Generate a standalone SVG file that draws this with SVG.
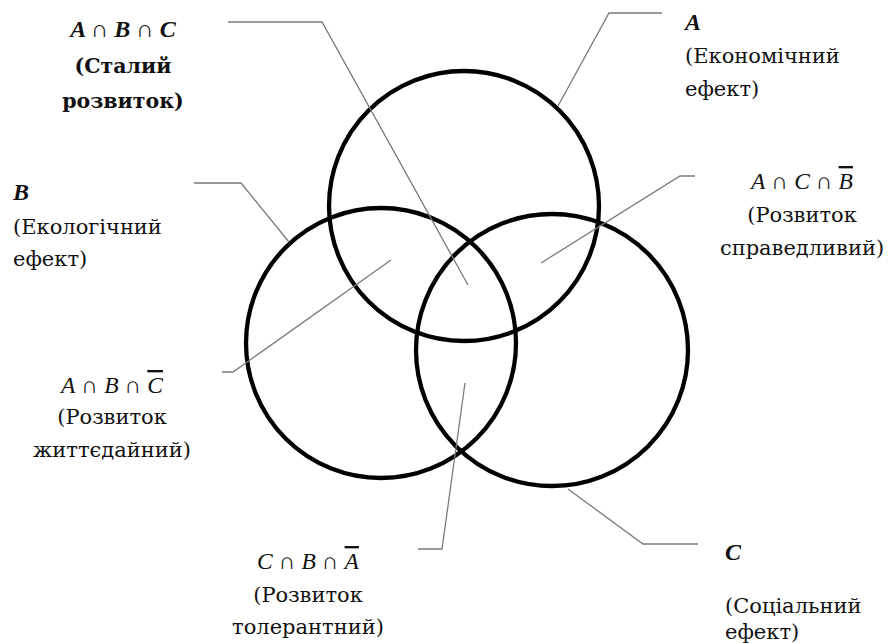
<svg xmlns="http://www.w3.org/2000/svg" width="888" height="643" viewBox="0 0 888 643">
<style>
.c{fill:none;stroke:#000;stroke-width:4.3}
.l{fill:none;stroke:#7a7a7a;stroke-width:1.3}
text{font-family:"DejaVu Serif","Liberation Serif",serif;font-size:21px;fill:#111}
.b{font-weight:bold;font-size:20.5px}
.bi{font-weight:bold;font-style:italic;font-family:"Liberation Serif","DejaVu Serif",serif;font-size:24px}
.m{font-family:"Liberation Serif","DejaVu Serif",serif;font-size:23.5px}
.i{font-style:italic}
.ov{text-decoration:overline}
</style>
<rect width="888" height="643" fill="#fff"/>
<g id="circles">
<circle id="circleA" class="c" cx="464" cy="206" r="135"/>
<circle id="circleB" class="c" cx="381" cy="343" r="135"/>
<circle id="circleC" class="c" cx="552" cy="350" r="136"/>
</g>
<g id="connectors">
<polyline class="l" points="228,22 322,22 468,285"/>
<polyline class="l" points="662,13 609,13 558,106"/>
<polyline class="l" points="194,183 241,183 289,242"/>
<polyline class="l" points="695,176 680,176 541,263"/>
<polyline class="l" points="222,372 233,372 391,260"/>
<polyline class="l" points="418,549 442,549 465,383"/>
<polyline class="l" points="568,489 643,544 698,544"/>
</g>
<g id="labelABC">
<text class="bi" x="123" y="37" text-anchor="middle">A <tspan font-style="normal" font-weight="normal">∩</tspan> B <tspan font-style="normal" font-weight="normal">∩</tspan> C</text>
<text class="b" x="123" y="73" text-anchor="middle">(Сталий</text>
<text class="b" x="123" y="108" text-anchor="middle">розвиток)</text>
</g>
<g id="labelA">
<text class="bi" x="685" y="30">A</text>
<text x="685" y="63">(Економічний</text>
<text x="685" y="96">ефект)</text>
</g>
<g id="labelB">
<text class="bi" x="13" y="200">B</text>
<text x="13" y="234">(Екологічний</text>
<text x="13" y="266">ефект)</text>
</g>
<g id="labelACnotB">
<text class="m" x="802" y="189" text-anchor="middle"><tspan class="i">A</tspan> ∩ <tspan class="i">C</tspan> ∩ <tspan class="i ov">B</tspan></text>
<text x="802" y="222" text-anchor="middle">(Розвиток</text>
<text x="802" y="255" text-anchor="middle">справедливий)</text>
</g>
<g id="labelABnotC">
<text class="m" x="112" y="393" text-anchor="middle"><tspan class="i">A</tspan> ∩ <tspan class="i">B</tspan> ∩ <tspan class="i ov">C</tspan></text>
<text x="112" y="424" text-anchor="middle">(Розвиток</text>
<text x="112" y="457" text-anchor="middle">життєдайний)</text>
</g>
<g id="labelCBnotA">
<text class="m" x="308" y="569" text-anchor="middle"><tspan class="i">C</tspan> ∩ <tspan class="i">B</tspan> ∩ <tspan class="i ov">A</tspan></text>
<text x="308" y="602" text-anchor="middle">(Розвиток</text>
<text x="308" y="634" text-anchor="middle">толерантний)</text>
</g>
<g id="labelC">
<text class="bi" x="725" y="560">C</text>
<text x="725" y="613">(Соціальний</text>
<text x="725" y="639">ефект)</text>
</g>
</svg>
